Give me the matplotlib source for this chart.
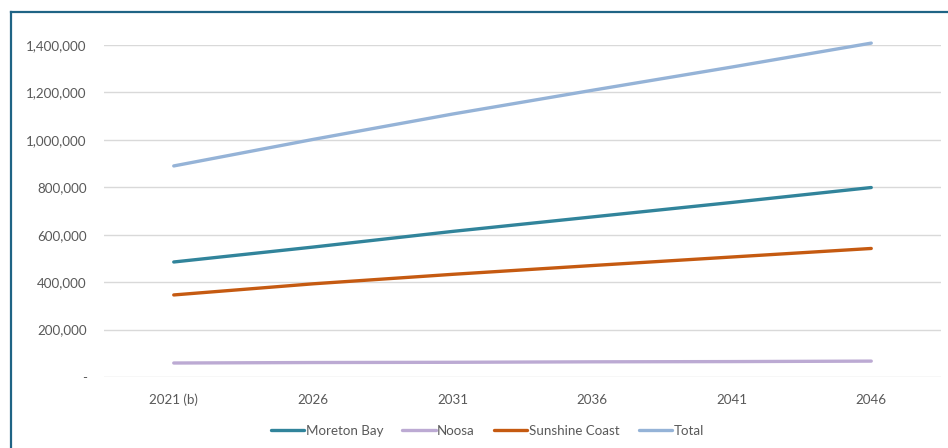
import matplotlib.pyplot as plt
from matplotlib.lines import Line2D
from matplotlib.ticker import FuncFormatter

years = ["2021 (b)", "2026", "2031", "2036", "2041", "2046"]
moreton_bay = [485000, 548000, 614000, 675000, 736000, 799000]
noosa = [59000, 61000, 62000, 64000, 65000, 67000]
sunshine_coast = [346000, 393000, 433000, 470000, 506000, 542000]
total = [890000, 1002000, 1109000, 1209000, 1307000, 1408000]

series = [
    ("Moreton Bay", moreton_bay, "#31849B"),
    ("Noosa", noosa, "#BCAAD3"),
    ("Sunshine Coast", sunshine_coast, "#C55A11"),
    ("Total", total, "#95B3D7"),
]

plt.rcParams['font.family'] = ['Lato', 'DejaVu Sans']
txt = "#595959"

fig = plt.figure(figsize=(9.48, 4.48), dpi=100)
ax = fig.add_axes([104/948, 1 - 377/448, (941 - 104)/948, (377 - 45)/448])

x = list(range(len(years)))
for name, vals, col in series:
    ax.plot(x, vals, color=col, lw=2.4, label=name, solid_capstyle='round', clip_on=False)

ax.set_xlim(-0.5, len(years) - 0.5)
ax.set_ylim(0, 1400000)
ax.set_yticks(range(0, 1400001, 200000))
ax.yaxis.set_major_formatter(FuncFormatter(lambda v, p: "-" if v == 0 else f"{v:,.0f}"))
ax.set_xticks(x)
ax.set_xticklabels(years)
ax.grid(axis='y', color="#D9D9D9", lw=1)
ax.set_axisbelow(True)
for s in ax.spines.values():
    s.set_visible(False)
ax.tick_params(length=0, labelsize=9.6, colors=txt)
ax.tick_params(axis='y', pad=12.5)
ax.tick_params(axis='x', pad=12)

ax.legend(loc='upper center', bbox_to_anchor=(0.458, -0.107), ncol=4, frameon=False,
          fontsize=9.6, labelcolor=txt, handlelength=2.5, handletextpad=0.1,
          columnspacing=1.45)

# chart frame (left and top edges)
fy = 1 - 12/448
fx = 10.5/948
fig.add_artist(Line2D([fx, fx], [0, fy], color="#1F6485", lw=1.6, transform=fig.transFigure))
fig.add_artist(Line2D([fx, 1], [fy, fy], color="#1F6485", lw=1.6, transform=fig.transFigure))

fig.savefig("out.png", dpi=100)
